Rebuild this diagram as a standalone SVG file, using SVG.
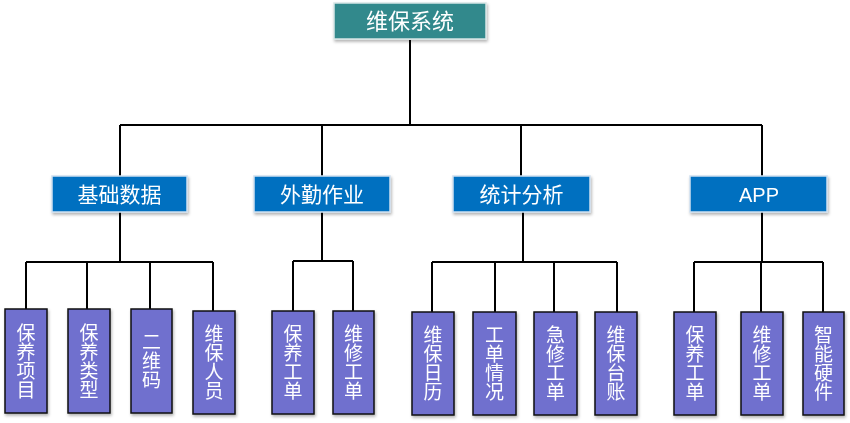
<svg xmlns="http://www.w3.org/2000/svg" width="850" height="423" viewBox="0 0 850 423">
<defs>
<filter id="sh" x="-20%" y="-20%" width="140%" height="140%">
<feDropShadow dx="1" dy="2" stdDeviation="1.5" flood-color="#000" flood-opacity="0.3"/>
</filter>
<style>
.ln{stroke:#000;stroke-width:2;fill:none}
.top{fill:#31898C;stroke:#d8e6e6;stroke-width:1.5}
.mid{fill:#0070C0;stroke:#cfe0f0;stroke-width:1.5}
.leaf{fill:#7070CE;stroke:#111;stroke-width:1.5}
text{font-family:"Noto Sans CJK SC","Microsoft YaHei",sans-serif;fill:#fff}
.t1{font-size:22px}
.t2{font-size:21px}
.t3{font-size:19px;writing-mode:vertical-rl;text-anchor:middle}
</style>
</defs>
<rect width="850" height="423" fill="#fff"/>
<g id="connectors">
<path class="ln" d="M410 40V125M120 125H762M120 125V176M322 125V176M521 125V176M762 125V176"/>
<path class="ln" d="M120 212V262M26 262H213M26 262V309M87 262V309M150 262V309M213 262V311"/>
<path class="ln" d="M322 212V261M293 261H353M293 261V311M353 261V311"/>
<path class="ln" d="M523 212V262M432 262H617M432 262V312M495 262V312M554 262V312M617 262V312"/>
<path class="ln" d="M762 212V262M694 262H823M694 262V312M761 262V312M823 262V312"/>
</g>
<g id="n0" filter="url(#sh)"><rect class="top" x="334" y="3" width="152" height="36"/><text class="t1" x="410" y="29" text-anchor="middle">维保系统</text></g>
<g id="n1" filter="url(#sh)"><rect class="mid" x="52" y="176" width="135" height="36"/><text class="t2" x="119.5" y="201.5" text-anchor="middle">基础数据</text></g>
<g id="n2" filter="url(#sh)"><rect class="mid" x="254" y="176" width="136" height="36"/><text class="t2" x="322" y="201.5" text-anchor="middle">外勤作业</text></g>
<g id="n3" filter="url(#sh)"><rect class="mid" x="453" y="176" width="137" height="36"/><text class="t2" x="521.5" y="201.5" text-anchor="middle">统计分析</text></g>
<g id="n4" filter="url(#sh)"><rect class="mid" x="690" y="176" width="137" height="36"/><text x="759" y="201.5" text-anchor="middle" style="font-family:'Liberation Sans',Arial,sans-serif;font-size:20px">APP</text></g>
<g id="l1" filter="url(#sh)"><rect class="leaf" x="5" y="309" width="42" height="104"/><text class="t3" x="26" y="361">保养项目</text></g>
<g id="l2" filter="url(#sh)"><rect class="leaf" x="68" y="309" width="42" height="104"/><text class="t3" x="89" y="361">保养类型</text></g>
<g id="l3" filter="url(#sh)"><rect class="leaf" x="131" y="309" width="41" height="104"/><text class="t3" x="151.5" y="361">二维码</text></g>
<g id="l4" filter="url(#sh)"><rect class="leaf" x="193" y="311" width="42" height="103"/><text class="t3" x="214" y="362.5">维保人员</text></g>
<g id="l5" filter="url(#sh)"><rect class="leaf" x="272" y="311" width="42" height="103"/><text class="t3" x="293" y="362.5">保养工单</text></g>
<g id="l6" filter="url(#sh)"><rect class="leaf" x="333" y="311" width="41" height="103"/><text class="t3" x="353.5" y="362.5">维修工单</text></g>
<g id="l7" filter="url(#sh)"><rect class="leaf" x="412" y="312" width="42" height="103"/><text class="t3" x="433" y="363.5">维保日历</text></g>
<g id="l8" filter="url(#sh)"><rect class="leaf" x="473" y="312" width="43" height="103"/><text class="t3" x="494.5" y="363.5">工单情况</text></g>
<g id="l9" filter="url(#sh)"><rect class="leaf" x="534" y="312" width="43" height="103"/><text class="t3" x="555.5" y="363.5">急修工单</text></g>
<g id="l10" filter="url(#sh)"><rect class="leaf" x="595" y="312" width="42" height="103"/><text class="t3" x="616" y="363.5">维保台账</text></g>
<g id="l11" filter="url(#sh)"><rect class="leaf" x="674" y="312" width="42" height="103"/><text class="t3" x="695" y="363.5">保养工单</text></g>
<g id="l12" filter="url(#sh)"><rect class="leaf" x="741" y="312" width="42" height="103"/><text class="t3" x="762" y="363.5">维修工单</text></g>
<g id="l13" filter="url(#sh)"><rect class="leaf" x="803" y="312" width="41" height="103"/><text class="t3" x="823.5" y="363.5">智能硬件</text></g>
</svg>
